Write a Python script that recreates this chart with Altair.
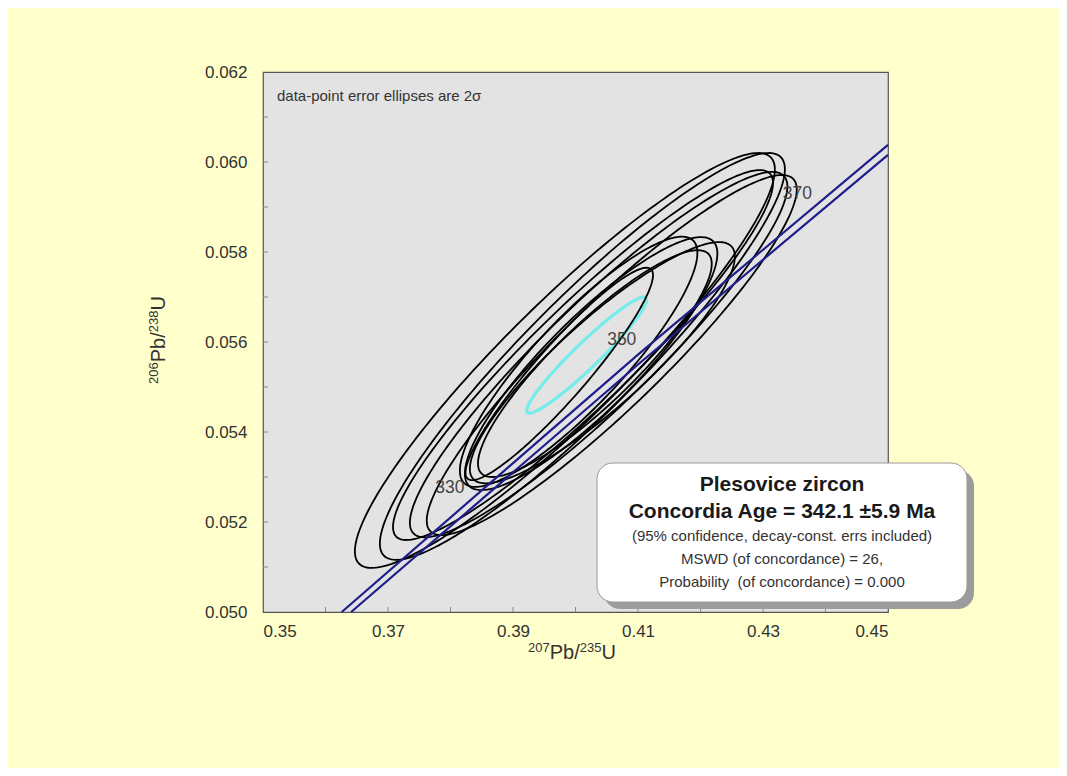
import numpy as np
import pandas as pd
import altair as alt

# ---------------- data ----------------
# data-point error ellipses (2 sigma): centre, half-extent in x / y, error correlation
ell_x = [0.3983, 0.4011, 0.4012, 0.4037, 0.4058, 0.3974, 0.4005, 0.4025, 0.4043, 0.4031]
ell_y = [0.05559, 0.05568, 0.05571, 0.05572, 0.05571, 0.05529, 0.05556, 0.05552, 0.05554, 0.05552]
ell_sx = [0.0336, 0.0324, 0.0304, 0.0302, 0.0296, 0.0150, 0.0190, 0.0202, 0.0212, 0.0187]
ell_sy = [0.00461, 0.00452, 0.00411, 0.00406, 0.00400, 0.00236, 0.00278, 0.00281, 0.00268, 0.00252]
ell_rho = [0.92, 0.92, 0.93, 0.92, 0.92, 0.93, 0.87, 0.87, 0.88, 0.88]

# concordia-age ellipse (cyan)
mean_x = [0.4018]
mean_y = [0.05571]
mean_sx = [0.0096]
mean_sy = [0.00129]
mean_rho = [0.955]

# concordia band edges
conc_upper_x = [0.3626, 0.4100, 0.4500]
conc_upper_y = [0.05000, 0.05572, 0.06038]
conc_lower_x = [0.3641, 0.4100, 0.4500]
conc_lower_y = [0.05000, 0.05550, 0.06016]

# age labels on the concordia
age_labels = ["330", "350", "370"]
age_x = [0.3799, 0.4074, 0.4355]
age_y = [0.05276, 0.05604, 0.05930]

# axes
x_ticks = [0.35, 0.37, 0.39, 0.41, 0.43, 0.45]
y_ticks = [0.050, 0.052, 0.054, 0.056, 0.058, 0.060, 0.062]
x_minor = [0.36, 0.37, 0.38, 0.39, 0.40, 0.41, 0.42, 0.43, 0.44]
y_minor = [0.051, 0.052, 0.053, 0.054, 0.055, 0.056, 0.057, 0.058, 0.059, 0.060, 0.061]

# axis titles as (text, is_superscript) pieces
x_title = [("207", True), ("Pb/", False), ("235", True), ("U", False)]
y_title = [("206", True), ("Pb/", False), ("238", True), ("U", False)]

note_text = ["data-point error ellipses are 2σ"]
box_title = ["Plesovice zircon", "Concordia Age = 342.1 ±5.9 Ma"]
box_lines = ["(95% confidence, decay-const. errs included)",
             "MSWD (of concordance) = 26,",
             "Probability\u00a0 (of concordance) = 0.000"]


# ---------------- build tables ----------------
def outline(cx, cy, sx, sy, rho, n=241):
    t = np.linspace(0, 2 * np.pi, n)
    return cx + sx * np.cos(t), cy + sy * (rho * np.cos(t) + np.sqrt(1 - rho ** 2) * np.sin(t))


def ellipse_table(xs, ys, sxs, sys, rhos, prefix):
    rows = []
    for i, (cx, cy, sx, sy, r) in enumerate(zip(xs, ys, sxs, sys, rhos)):
        ex, ey = outline(cx, cy, sx, sy, r)
        for k, (a, b) in enumerate(zip(ex, ey)):
            rows.append({"x": a, "y": b, "id": f"{prefix}{i}", "k": k})
    return pd.DataFrame(rows)


ell_df = ellipse_table(ell_x, ell_y, ell_sx, ell_sy, ell_rho, "e")
mean_df = ellipse_table(mean_x, mean_y, mean_sx, mean_sy, mean_rho, "m")

conc_df = pd.DataFrame({
    "x": conc_upper_x + conc_lower_x,
    "y": conc_upper_y + conc_lower_y,
    "line": ["upper"] * len(conc_upper_x) + ["lower"] * len(conc_lower_x),
    "k": list(range(len(conc_upper_x))) + list(range(len(conc_lower_x))),
})
age_df = pd.DataFrame({"x": age_x, "y": age_y, "label": age_labels})
xminor_df = pd.DataFrame({"x": x_minor})
yminor_df = pd.DataFrame({"y": y_minor})
one = pd.DataFrame({"a": [0]})

FONT = "Liberation Sans"
TXT = "#333333"
BIG, SMALL = 20, 13
# Arial / Liberation Sans advance widths (em)
ADV = {"0": 0.556, "2": 0.556, "3": 0.556, "5": 0.556, "6": 0.556, "7": 0.556, "8": 0.556,
       "P": 0.667, "b": 0.556, "/": 0.278, "U": 0.722}

xs = alt.Scale(domain=[0.35, 0.45], nice=False, zero=False)
ys = alt.Scale(domain=[0.050, 0.062], nice=False, zero=False)

X = alt.X("x:Q", scale=xs, axis=alt.Axis(
    values=x_ticks, format=".2f", title=None, grid=False, ticks=False,
    domain=False, labelPadding=11, labelFontSize=17, labelColor=TXT, labelFont=FONT))
Y = alt.Y("y:Q", scale=ys, axis=alt.Axis(
    values=y_ticks, format=".3f", title=None, grid=False, ticks=False,
    domain=False, labelPadding=16, labelFontSize=17, labelColor=TXT, labelFont=FONT))

ticks_x = alt.Chart(xminor_df).mark_rule(color="#8a8a8a", strokeWidth=1).encode(
    x=X, y=alt.value(540), y2=alt.value(535))
ticks_y = alt.Chart(yminor_df).mark_rule(color="#8a8a8a", strokeWidth=1).encode(
    y=Y, x=alt.value(0), x2=alt.value(5))

ellipses = alt.Chart(ell_df).mark_line(color="black", strokeWidth=1.8).encode(
    x=X, y=Y, detail="id:N", order="k:Q")
mean_ell = alt.Chart(mean_df).mark_line(color="#74ecec", strokeWidth=3.2).encode(
    x=X, y=Y, detail="id:N", order="k:Q")
conc = alt.Chart(conc_df).mark_line(color="#1e1e8c", strokeWidth=2.2).encode(
    x=X, y=Y, detail="line:N", order="k:Q")
ages = alt.Chart(age_df).mark_text(font=FONT, fontSize=17.5, color="#454545").encode(
    x=X, y=Y, text="label:N")

note = alt.Chart(pd.DataFrame({"t": note_text})).mark_text(
    font=FONT, fontSize=15, color=TXT, align="left", baseline="middle").encode(
    x=alt.value(14), y=alt.value(24), text="t:N")

shadow = alt.Chart(one).mark_rect(fill="#9c9c9c", cornerRadius=16).encode(
    x=alt.value(341), x2=alt.value(711), y=alt.value(398), y2=alt.value(537))
box = alt.Chart(one).mark_rect(fill="white", stroke="#9a9a9a", strokeWidth=1, cornerRadius=16).encode(
    x=alt.value(334), x2=alt.value(704), y=alt.value(391), y2=alt.value(530))


def box_text(txt, ypos, size, weight):
    return alt.Chart(pd.DataFrame({"t": [txt]})).mark_text(
        font=FONT, fontSize=size, fontWeight=weight, color="#1a1a1a" if weight == "bold" else TXT,
        align="center", baseline="middle").encode(x=alt.value(519), y=alt.value(ypos), text="t:N")


box_texts = [
    box_text(box_title[0], 413, 21, "bold"),
    box_text(box_title[1], 440, 21, "bold"),
    box_text(box_lines[0], 464, 15, "normal"),
    box_text(box_lines[1], 487, 15, "normal"),
    box_text(box_lines[2], 510, 15, "normal"),
]


def piece_width(txt, sup):
    return sum(ADV[c] for c in txt) * (SMALL if sup else BIG)


def x_title_layers(pieces, center, baseline):
    total = sum(piece_width(t, s) for t, s in pieces)
    pos = center - total / 2
    out = []
    for t, s in pieces:
        out.append(alt.Chart(pd.DataFrame({"t": [t]})).mark_text(
            font=FONT, fontSize=SMALL if s else BIG, color=TXT, align="left", baseline="alphabetic").encode(
            x=alt.value(pos), y=alt.value(baseline - 7 if s else baseline), text="t:N"))
        pos += piece_width(t, s)
    return out


def y_title_layers(pieces, center, baseline):
    total = sum(piece_width(t, s) for t, s in pieces)
    pos = center + total / 2
    out = []
    for t, s in pieces:
        out.append(alt.Chart(pd.DataFrame({"t": [t]})).mark_text(
            font=FONT, fontSize=SMALL if s else BIG, color=TXT, align="left", baseline="alphabetic",
            angle=270).encode(
            x=alt.value(baseline - 7 if s else baseline), y=alt.value(pos), text="t:N"))
        pos -= piece_width(t, s)
    return out


titles = x_title_layers(x_title, 309, 587) + y_title_layers(y_title, 268, -98)

chart = alt.layer(
    ticks_x, ticks_y, mean_ell, ellipses, conc, ages, note, shadow, box, *box_texts, *titles
).properties(
    width=625, height=540,
    autosize=alt.AutoSizeParams(type="none"),
    padding={"left": 255, "top": 64, "right": 171, "bottom": 156},
).configure(background="#FFFFCC").configure_view(
    fill="#E3E3E3", stroke="#555555", strokeWidth=1.2)

chart.save("out.html", embed_options={"renderer": "svg", "actions": False})
